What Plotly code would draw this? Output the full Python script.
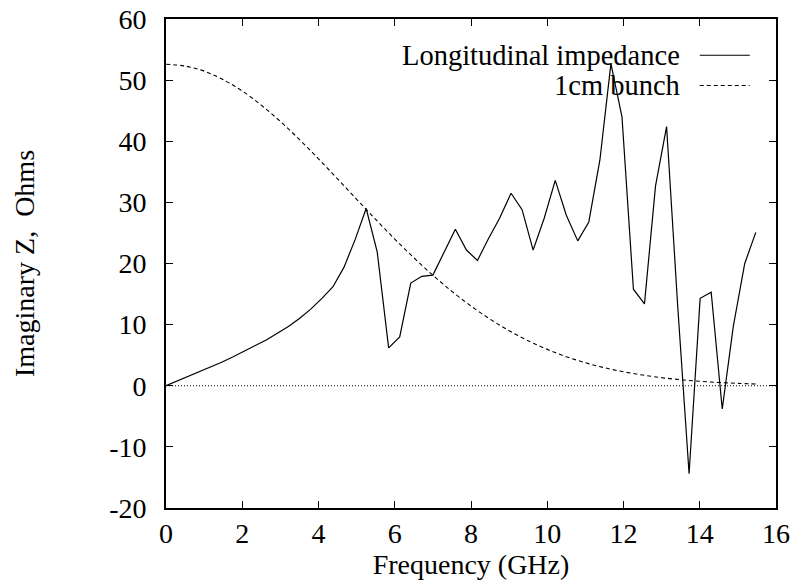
import plotly.graph_objects as go

# ---- data ----
freq_ghz = [0.00, 0.29, 0.58, 0.88, 1.17, 1.46, 1.75, 2.04, 2.33, 2.63,
            2.92, 3.21, 3.50, 3.79, 4.09, 4.38, 4.67, 4.96, 5.25, 5.54,
            5.84, 6.13, 6.42, 6.71, 7.00, 7.30, 7.59, 7.88, 8.17, 8.46,
            8.75, 9.05, 9.34, 9.63, 9.92, 10.21, 10.50, 10.80, 11.09, 11.38,
            11.67, 11.96, 12.26, 12.55, 12.84, 13.13, 13.42, 13.72, 14.01, 14.30,
            14.59, 14.88, 15.18, 15.47]
imag_z = [0.0, 0.75, 1.5, 2.25, 3.05, 3.85, 4.7, 5.6, 6.5, 7.5,
          8.6, 9.7, 11.0, 12.5, 14.3, 16.2, 19.4, 23.9, 29.0, 21.9,
          6.2, 8.0, 16.8, 17.9, 18.1, 21.8, 25.6, 22.2, 20.5, 24.1,
          27.4, 31.5, 28.8, 22.2, 27.4, 33.6, 27.9, 23.7, 26.8, 36.9,
          52.7, 44.0, 15.8, 13.4, 32.7, 42.4, 13.2, -14.4, 14.3, 15.3,
          -3.8, 9.7, 20.0, 25.1]

bunch_freq = [0.0, 0.5, 1.0, 1.5, 2.0, 2.5, 3.0, 3.5, 4.0, 4.5, 5.0, 5.5,
              6.0, 6.5, 7.0, 7.5, 8.0, 8.5, 9.0, 9.5, 10.0, 10.5, 11.0, 11.5,
              12.0, 12.5, 13.0, 13.5, 14.0, 14.5, 15.0, 15.5]
bunch_spec = [52.6, 52.31, 51.47, 50.08, 48.21, 45.90, 43.23, 40.28, 37.12, 33.84,
              30.51, 27.21, 24.00, 20.95, 18.08, 15.44, 13.04, 10.90, 9.00, 7.36,
              5.95, 4.76, 3.77, 2.95, 2.28, 1.75, 1.32, 0.99, 0.73, 0.54, 0.39, 0.28]

x_ticks = [0, 2, 4, 6, 8, 10, 12, 14, 16]
x_tick_labels = ["0", "2", "4", "6", "8", "10", "12", "14", "16"]
y_ticks = [-20, -10, 0, 10, 20, 30, 40, 50, 60]
y_tick_labels = ["-20", "-10", "0", "10", "20", "30", "40", "50", "60"]

series_names = ["Longitudinal impedance", "1cm bunch"]

FONT = "Liberation Serif"
FS = 28

fig = go.Figure()
fig.add_trace(go.Scatter(x=freq_ghz, y=imag_z, mode="lines",
                         line=dict(color="black", width=1.2),
                         name=series_names[0], showlegend=False))
fig.add_trace(go.Scatter(x=bunch_freq, y=bunch_spec, mode="lines",
                         line=dict(color="black", width=1.1, dash="4px,3px", shape="spline"),
                         name=series_names[1], showlegend=False))

# zero axis (dotted)
fig.add_shape(type="line", xref="x", yref="y", x0=0, x1=16, y0=0, y1=0,
              line=dict(color="black", width=1, dash="1px,2px"))

# gnuplot-style key: right-aligned text, sample line to the right
rows = [(0.926, "solid"), (0.864, "4px,3px")]
for (yp, dash), name in zip(rows, series_names):
    fig.add_annotation(xref="paper", yref="paper", x=0.846, y=yp, text=name,
                       showarrow=False, xanchor="right", yanchor="middle",
                       font=dict(family=FONT, size=FS + 0.5, color="black"))
    fig.add_shape(type="line", xref="paper", yref="paper", x0=0.875, x1=0.957,
                  y0=yp, y1=yp, line=dict(color="black", width=1.1, dash=dash))

axis_common = dict(showline=True, linecolor="black", linewidth=1.6, mirror="allticks",
                   ticks="inside", ticklen=7, tickcolor="black", tickwidth=1.2,
                   showgrid=False, zeroline=False, automargin=False,
                   tickfont=dict(family=FONT, size=FS, color="black"))

fig.update_xaxes(range=[0, 16], tickvals=x_ticks, ticktext=x_tick_labels,
                 ticklabelstandoff=0,
                 title=dict(text="Frequency (GHz)", standoff=0,
                            font=dict(family=FONT, size=FS, color="black")),
                 **axis_common)
fig.update_yaxes(range=[-20, 60], tickvals=y_ticks, ticktext=y_tick_labels,
                 ticklabelstandoff=12,
                 title=dict(text="Imaginary Z,  Ohms", standoff=66,
                            font=dict(family=FONT, size=FS, color="black")),
                 **axis_common)

fig.update_layout(width=795, height=586, plot_bgcolor="white", paper_bgcolor="white",
                  margin=dict(l=166, r=19, t=19, b=78, pad=0),
                  showlegend=False, font=dict(family=FONT, size=FS, color="black"))

fig.write_html("out.html")
